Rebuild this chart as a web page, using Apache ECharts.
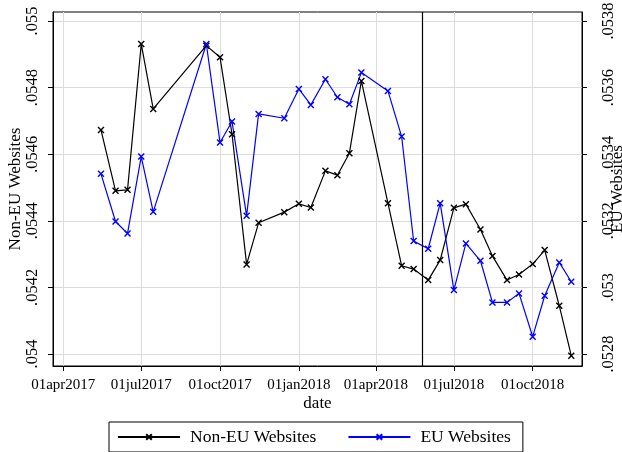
<!DOCTYPE html>
<html>
<head>
<meta charset="utf-8">
<script src="https://cdn.jsdelivr.net/npm/echarts@6/dist/echarts.min.js"></script>
<style>
  html, body { margin: 0; padding: 0; background: #fff; }
  #chart { width: 622px; height: 452px; }
</style>
</head>
<body>
<div id="chart"></div>
<script>
var dates = ['2017-05-15', '2017-06-01', '2017-06-15', '2017-07-01', '2017-07-15',
  '2017-09-15', '2017-10-01', '2017-10-15', '2017-11-01', '2017-11-15', '2017-12-15',
  '2018-01-01', '2018-01-15', '2018-02-01', '2018-02-15', '2018-03-01', '2018-03-15',
  '2018-04-15', '2018-05-01', '2018-05-15', '2018-06-01', '2018-06-15', '2018-07-01',
  '2018-07-15', '2018-08-01', '2018-08-15', '2018-09-01', '2018-09-15', '2018-10-01',
  '2018-10-15', '2018-11-01', '2018-11-15'];
var nonEU = [0.054673, 0.054490, 0.054493, 0.054931, 0.054736,
  0.054926, 0.054891, 0.054660, 0.054269, 0.054394, 0.054426,
  0.054451, 0.054440, 0.054550, 0.054537, 0.054603, 0.054820,
  0.054453, 0.054265, 0.054255, 0.054222, 0.054282, 0.054439,
  0.054450, 0.054374, 0.054294, 0.054222, 0.054239, 0.054270,
  0.054312, 0.054145, 0.053995];
var eu = [0.053341, 0.053198, 0.053162, 0.053393, 0.053227,
  0.053731, 0.053435, 0.053498, 0.053215, 0.053521, 0.053508,
  0.053596, 0.053548, 0.053625, 0.053571, 0.053550, 0.053645,
  0.053590, 0.053453, 0.053139, 0.053116, 0.053253, 0.052992,
  0.053132, 0.053080, 0.052955, 0.052955, 0.052982, 0.052852,
  0.052975, 0.053075, 0.053017];
var xTicks = ['2017-04-01', '2017-07-01', '2017-10-01', '2018-01-01', '2018-04-01', '2018-07-01', '2018-10-01'];
var leftTicks = [0.054, 0.0542, 0.0544, 0.0546, 0.0548, 0.055];
var rightTicks = [0.0528, 0.053, 0.0532, 0.0534, 0.0536, 0.0538];
var gdprDate = '2018-05-25';

var months = ['jan','feb','mar','apr','may','jun','jul','aug','sep','oct','nov','dec'];
function ts(s) {
  var p = s.split('-');
  return new Date(+p[0], +p[1] - 1, +p[2]).getTime();
}
function fmtDate(v) {
  var d = new Date(v);
  var dd = d.getDate();
  return (dd < 10 ? '0' : '') + dd + months[d.getMonth()] + d.getFullYear();
}
function fmtNum(v) {
  return String(+(+v).toFixed(4)).replace(/^0/, '');
}

var font = 'Liberation Serif';
var xMark = 'path://M0,0L10,10M10,0L0,10';

var chart = echarts.init(document.getElementById('chart'));

function pairs(vals) {
  return dates.map(function (d, i) { return [ts(d), vals[i]]; });
}

function yAx(pos, min, max, ticks, name, gap, margin) {
  return {
    type: 'value',
    position: pos,
    min: min,
    max: max,
    name: name,
    nameLocation: 'middle',
    nameRotate: 90,
    nameGap: gap,
    nameMoveOverlap: false,
    nameTextStyle: { fontFamily: font, fontSize: 17, color: '#000' },
    axisLine: { show: true, lineStyle: { color: '#000', width: 1 } },
    axisTick: { show: true, length: 5, customValues: ticks, lineStyle: { color: '#000' } },
    axisLabel: {
      customValues: ticks, rotate: 90, margin: margin,
      fontFamily: font, fontSize: 16.5, color: '#000',
      formatter: fmtNum
    },
    splitLine: { show: pos === 'left', lineStyle: { color: '#dcdcdc', width: 1 } }
  };
}

chart.setOption({
  animation: false,
  backgroundColor: '#fff',
  grid: {
    left: 53, right: 40, top: 12, bottom: 86,
    outerBoundsMode: 'none',
    containLabel: false,
    show: true, borderColor: '#000', borderWidth: 1
  },
  legend: {
    left: 109, top: 422,
    padding: [6, 12, 6, 8],
    borderColor: '#000', borderWidth: 1, borderRadius: 0,
    itemWidth: 62, itemHeight: 7, itemGap: 31,
    textStyle: { fontFamily: font, fontSize: 17.5, color: '#000', padding: [0, 0, 0, 5] },
    data: ['Non-EU Websites', 'EU Websites']
  },
  xAxis: {
    type: 'value',
    min: new Date(2017, 2, 20).getTime(),
    max: new Date(2018, 10, 27, 13).getTime(),
    name: 'date',
    nameLocation: 'middle',
    nameGap: 29,
    nameMoveOverlap: false,
    nameTextStyle: { fontFamily: font, fontSize: 17, color: '#000' },
    axisLine: { show: true, lineStyle: { color: '#000', width: 1 } },
    axisTick: { show: true, length: 5, customValues: xTicks.map(ts), lineStyle: { color: '#000' } },
    axisLabel: {
      customValues: xTicks.map(ts), margin: 12,
      fontFamily: font, fontSize: 15, color: '#000',
      formatter: fmtDate
    },
    splitLine: { show: true, lineStyle: { color: '#dcdcdc', width: 1 } }
  },
  yAxis: [
    yAx('left', 0.053964, 0.055027, leftTicks, 'Non-EU Websites', 29, 12),
    yAx('right', 0.052764, 0.053827, rightTicks, 'EU Websites', 27, 18)
  ],
  series: [
    {
      name: 'Non-EU Websites',
      type: 'line',
      yAxisIndex: 0,
      data: pairs(nonEU),
      symbol: xMark,
      symbolSize: 6,
      showAllSymbol: true,
      color: '#000',
      lineStyle: { color: '#000', width: 1.2 },
      itemStyle: { color: '#000', borderColor: '#000', borderWidth: 1.4 },
      markLine: {
        silent: true,
        symbol: ['none', 'none'],
        label: { show: false },
        lineStyle: { color: '#000', width: 1.2, type: 'solid' },
        data: [{ xAxis: ts(gdprDate) }]
      }
    },
    {
      name: 'EU Websites',
      type: 'line',
      yAxisIndex: 1,
      data: pairs(eu),
      symbol: xMark,
      symbolSize: 6,
      showAllSymbol: true,
      color: '#0000ff',
      lineStyle: { color: '#0000ff', width: 1.2 },
      itemStyle: { color: '#0000ff', borderColor: '#0000ff', borderWidth: 1.4 }
    }
  ]
});
</script>
</body>
</html>
